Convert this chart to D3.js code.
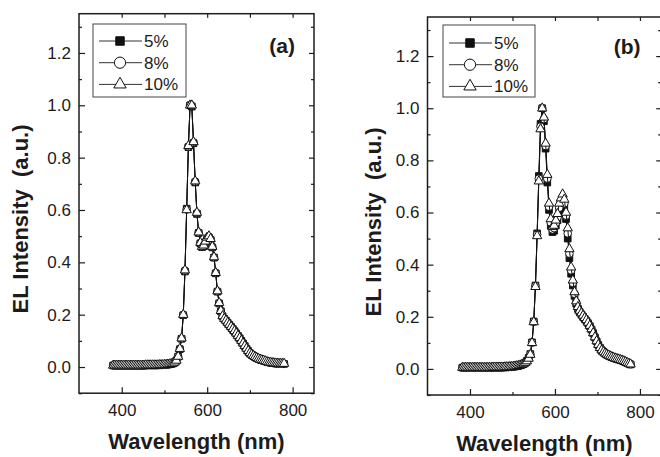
<!DOCTYPE html>
<html lang="en">
  <head>
    <meta charset="utf-8" />
    <title>EL spectra</title>
    <script src="https://d3js.org/d3.v7.min.js"></script>
    <style>
      body { margin: 0; background: #fff; }
      text { font-family: "Liberation Sans", Arial, Helvetica, sans-serif; fill: #1c1c1c; }
    </style>
  </head>
  <body>
    <script>
      const WIDTH = 660;
      const HEIGHT = 457;
      const INK = "#1c1c1c";

      // Wavelength grids (nm) of the two panels
      const wavelengthA = [
        380, 384, 388, 392, 396, 400, 404, 408, 412, 416,
        420, 424, 428, 432, 436, 440, 444, 448, 452, 456,
        460, 464, 468, 472, 476, 480, 484, 488, 492, 496,
        500, 504, 508, 512, 516, 520, 524, 528, 532, 536,
        540, 544, 548, 552, 556, 560, 564, 568, 572, 576,
        580, 584, 588, 592, 596, 600, 604, 608, 612, 616,
        620, 624, 628, 632, 636, 640, 644, 648, 652, 656,
        660, 664, 668, 672, 676, 680, 684, 688, 692, 696,
        700, 704, 708, 712, 716, 720, 724, 728, 732, 736,
        740, 744, 748, 752, 756, 760, 764, 768, 772, 776,
        780
      ];
      const wavelengthB = [
        382, 386, 390, 394, 398, 402, 406, 410, 414, 418,
        422, 426, 430, 434, 438, 442, 446, 450, 454, 458,
        462, 466, 470, 474, 478, 482, 486, 490, 494, 498,
        502, 506, 510, 514, 518, 522, 526, 530, 534, 538,
        542, 546, 550, 554, 558, 562, 566, 570, 574, 578,
        582, 586, 590, 594, 598, 602, 606, 610, 614, 618,
        622, 626, 630, 634, 638, 642, 646, 650, 654, 658,
        662, 666, 670, 674, 678, 682, 686, 690, 694, 698,
        702, 706, 710, 714, 718, 722, 726, 730, 734, 738,
        742, 746, 750, 754, 758, 762, 766, 770, 774, 778
      ];

      // Panel (a) normalised EL intensity
      const a5 = [
        0.006, 0.006, 0.006, 0.006, 0.006, 0.006, 0.006, 0.006, 0.006, 0.006,
        0.006, 0.006, 0.006, 0.006, 0.006, 0.006, 0.006, 0.006, 0.006, 0.007,
        0.007, 0.007, 0.007, 0.007, 0.007, 0.007, 0.007, 0.008, 0.008, 0.008,
        0.009, 0.009, 0.010, 0.011, 0.012, 0.014, 0.018, 0.025, 0.040, 0.068,
        0.108, 0.198, 0.365, 0.605, 0.840, 1.000, 0.995, 0.855, 0.705, 0.585,
        0.512, 0.472, 0.458, 0.462, 0.476, 0.490, 0.495, 0.486, 0.457, 0.418,
        0.358, 0.288, 0.243, 0.213, 0.194, 0.184, 0.177, 0.169, 0.161, 0.153,
        0.145, 0.137, 0.128, 0.119, 0.110, 0.100, 0.090, 0.080, 0.070, 0.061,
        0.053, 0.047, 0.042, 0.038, 0.034, 0.031, 0.028, 0.026, 0.024, 0.022,
        0.020, 0.018, 0.017, 0.016, 0.015, 0.014, 0.014, 0.013, 0.013, 0.013,
        0.012
      ];
      const a8 = [
        0.006, 0.006, 0.006, 0.006, 0.006, 0.006, 0.006, 0.006, 0.006, 0.006,
        0.006, 0.006, 0.006, 0.006, 0.006, 0.006, 0.006, 0.006, 0.006, 0.007,
        0.007, 0.007, 0.007, 0.007, 0.007, 0.007, 0.007, 0.008, 0.008, 0.008,
        0.009, 0.009, 0.010, 0.011, 0.012, 0.014, 0.018, 0.025, 0.040, 0.069,
        0.109, 0.199, 0.368, 0.602, 0.842, 1.000, 0.998, 0.858, 0.708, 0.588,
        0.514, 0.474, 0.459, 0.464, 0.478, 0.493, 0.498, 0.488, 0.459, 0.419,
        0.359, 0.289, 0.244, 0.214, 0.195, 0.185, 0.178, 0.170, 0.162, 0.154,
        0.146, 0.138, 0.129, 0.120, 0.111, 0.101, 0.091, 0.081, 0.071, 0.062,
        0.054, 0.048, 0.043, 0.039, 0.035, 0.032, 0.029, 0.027, 0.025, 0.023,
        0.020, 0.018, 0.017, 0.016, 0.015, 0.014, 0.014, 0.013, 0.013, 0.013,
        0.012
      ];
      const a10 = [
        0.006, 0.006, 0.006, 0.006, 0.006, 0.006, 0.006, 0.006, 0.006, 0.006,
        0.006, 0.006, 0.006, 0.006, 0.006, 0.006, 0.006, 0.006, 0.006, 0.007,
        0.007, 0.007, 0.007, 0.007, 0.007, 0.007, 0.007, 0.008, 0.008, 0.008,
        0.009, 0.009, 0.010, 0.011, 0.012, 0.014, 0.018, 0.025, 0.040, 0.070,
        0.110, 0.200, 0.370, 0.600, 0.845, 1.000, 1.000, 0.860, 0.710, 0.590,
        0.515, 0.475, 0.460, 0.465, 0.480, 0.495, 0.500, 0.490, 0.460, 0.420,
        0.360, 0.290, 0.245, 0.215, 0.195, 0.185, 0.178, 0.170, 0.162, 0.154,
        0.146, 0.138, 0.129, 0.120, 0.111, 0.101, 0.091, 0.081, 0.071, 0.062,
        0.054, 0.048, 0.043, 0.039, 0.035, 0.032, 0.029, 0.027, 0.025, 0.023,
        0.020, 0.018, 0.017, 0.016, 0.015, 0.014, 0.014, 0.013, 0.013, 0.013,
        0.013
      ];

      // Panel (b) normalised EL intensity
      const b5 = [
        0.005, 0.005, 0.005, 0.005, 0.005, 0.005, 0.005, 0.005, 0.005, 0.005,
        0.005, 0.005, 0.005, 0.005, 0.005, 0.005, 0.005, 0.005, 0.006, 0.006,
        0.006, 0.006, 0.006, 0.006, 0.006, 0.007, 0.007, 0.007, 0.008, 0.008,
        0.009, 0.010, 0.011, 0.012, 0.014, 0.016, 0.019, 0.024, 0.031, 0.042,
        0.057, 0.102, 0.182, 0.320, 0.520, 0.740, 0.940, 1.000, 0.950, 0.845,
        0.715, 0.610, 0.550, 0.525, 0.530, 0.550, 0.570, 0.600, 0.625, 0.635,
        0.620, 0.575, 0.500, 0.425, 0.365, 0.320, 0.280, 0.250, 0.230, 0.218,
        0.209, 0.200, 0.192, 0.184, 0.175, 0.164, 0.151, 0.137, 0.121, 0.106,
        0.092, 0.081, 0.072, 0.065, 0.059, 0.055, 0.051, 0.048, 0.045, 0.042,
        0.040, 0.038, 0.036, 0.034, 0.032, 0.029, 0.026, 0.023, 0.020, 0.017
      ];
      const b8 = [
        0.005, 0.005, 0.005, 0.005, 0.005, 0.005, 0.005, 0.005, 0.005, 0.005,
        0.005, 0.005, 0.005, 0.005, 0.005, 0.005, 0.005, 0.005, 0.006, 0.006,
        0.006, 0.006, 0.006, 0.006, 0.006, 0.007, 0.007, 0.007, 0.008, 0.008,
        0.009, 0.010, 0.011, 0.012, 0.014, 0.016, 0.019, 0.024, 0.030, 0.041,
        0.056, 0.101, 0.181, 0.318, 0.515, 0.730, 0.930, 1.000, 0.958, 0.855,
        0.730, 0.622, 0.562, 0.535, 0.540, 0.560, 0.582, 0.618, 0.640, 0.652,
        0.635, 0.588, 0.520, 0.442, 0.378, 0.330, 0.288, 0.255, 0.234, 0.221,
        0.211, 0.203, 0.194, 0.186, 0.177, 0.165, 0.152, 0.137, 0.121, 0.106,
        0.092, 0.081, 0.072, 0.065, 0.060, 0.056, 0.052, 0.049, 0.046, 0.043,
        0.041, 0.039, 0.037, 0.035, 0.033, 0.030, 0.027, 0.024, 0.021, 0.018
      ];
      const b10 = [
        0.005, 0.005, 0.005, 0.005, 0.005, 0.005, 0.005, 0.005, 0.005, 0.005,
        0.005, 0.005, 0.005, 0.005, 0.005, 0.005, 0.005, 0.005, 0.006, 0.006,
        0.006, 0.006, 0.006, 0.006, 0.006, 0.007, 0.007, 0.007, 0.008, 0.008,
        0.009, 0.010, 0.011, 0.012, 0.014, 0.016, 0.019, 0.024, 0.030, 0.040,
        0.055, 0.100, 0.180, 0.315, 0.510, 0.720, 0.920, 1.000, 0.965, 0.865,
        0.745, 0.635, 0.575, 0.545, 0.550, 0.570, 0.595, 0.635, 0.655, 0.670,
        0.650, 0.600, 0.540, 0.460, 0.390, 0.340, 0.295, 0.260, 0.238, 0.224,
        0.214, 0.205, 0.196, 0.188, 0.178, 0.166, 0.153, 0.138, 0.122, 0.107,
        0.093, 0.081, 0.072, 0.065, 0.060, 0.056, 0.052, 0.049, 0.046, 0.043,
        0.041, 0.039, 0.037, 0.035, 0.033, 0.030, 0.027, 0.024, 0.021, 0.018
      ];

      // Ticks
      const xMajor = [400, 600, 800];
      const xMinor = [500, 700];
      const yMajor = [0.0, 0.2, 0.4, 0.6, 0.8, 1.0, 1.2];
      const yMinor = [-0.1, 0.1, 0.3, 0.5, 0.7, 0.9, 1.1, 1.3];
      const xDomain = [300, 850];
      const yDomain = [-0.1, 1.35];

      const seriesNames = ["5%", "8%", "10%"];
      const symbolTypes = [d3.symbolSquare, d3.symbolCircle, d3.symbolTriangle];
      const symbolFills = ["#111", "#fff", "#fff"];
      const symbolSizes = [44, 46, 38];
      const legendSizes = [72, 100, 66];

      const svg = d3.select("body").append("svg")
        .attr("width", WIDTH)
        .attr("height", HEIGHT);

      function styleAxis(g, size) {
        g.select(".domain").remove();
        g.selectAll("line").attr("stroke", INK).attr("stroke-width", 1.2);
        g.selectAll("text").attr("font-size", size).attr("font-family", null).attr("fill", INK);
      }

      function drawPanel(p) {
        const x = d3.scaleLinear().domain(xDomain).range([p.left, p.right]);
        const y = d3.scaleLinear().domain(yDomain).range([p.bottom, p.top]);
        const g = svg.append("g");

        // bottom + left with labels, top + right mirrored ticks only
        g.append("g").attr("transform", `translate(0,${p.bottom})`)
          .call(d3.axisBottom(x).tickValues(xMajor).tickSizeInner(-6).tickSizeOuter(0).tickPadding(11))
          .call(styleAxis, 17);
        g.append("g").attr("transform", `translate(0,${p.bottom})`)
          .call(d3.axisBottom(x).tickValues(xMinor).tickSizeInner(-3).tickSizeOuter(0).tickFormat(""))
          .call(styleAxis, 17);
        g.append("g").attr("transform", `translate(${p.left},0)`)
          .call(d3.axisLeft(y).tickValues(yMajor).tickSizeInner(-6).tickSizeOuter(0).tickPadding(8).tickFormat(d3.format(".1f")))
          .call(styleAxis, 17);
        g.append("g").attr("transform", `translate(${p.left},0)`)
          .call(d3.axisLeft(y).tickValues(yMinor).tickSizeInner(-3).tickSizeOuter(0).tickFormat(""))
          .call(styleAxis, 17);
        g.append("g").attr("transform", `translate(0,${p.top})`)
          .call(d3.axisTop(x).tickValues(xMajor.concat(xMinor)).tickSizeInner(-4).tickSizeOuter(0).tickFormat(""))
          .call(styleAxis, 17);
        g.append("g").attr("transform", `translate(${p.right},0)`)
          .call(d3.axisRight(y).tickValues(yMajor).tickSizeInner(-5).tickSizeOuter(0).tickFormat(""))
          .call(styleAxis, 17);
        g.append("g").attr("transform", `translate(${p.right},0)`)
          .call(d3.axisRight(y).tickValues(yMinor).tickSizeInner(-3).tickSizeOuter(0).tickFormat(""))
          .call(styleAxis, 17);

        // frame
        g.append("rect")
          .attr("x", p.left).attr("y", p.top)
          .attr("width", p.right - p.left).attr("height", p.bottom - p.top)
          .attr("fill", "none").attr("stroke", INK).attr("stroke-width", 1.5);

        // series: line then symbols, 5% first so 10% ends on top
        const line = d3.line().x(d => x(d[0])).y(d => y(d[1]));
        p.series.forEach((vals, i) => {
          const pts = d3.zip(p.wavelength, vals);
          g.append("path").datum(pts)
            .attr("d", line)
            .attr("fill", "none").attr("stroke", "#111").attr("stroke-width", 1);
          g.append("g").selectAll("path").data(pts).join("path")
            .attr("transform", d => `translate(${x(d[0])},${y(d[1])})`)
            .attr("d", d3.symbol(symbolTypes[i], symbolSizes[i]))
            .attr("fill", symbolFills[i]).attr("stroke", "#111").attr("stroke-width", 1);
        });

        // legend
        const lg = p.legend;
        g.append("rect")
          .attr("x", lg.x).attr("y", lg.y).attr("width", lg.w).attr("height", lg.h)
          .attr("fill", "#fff").attr("stroke", "#444").attr("stroke-width", 1);
        seriesNames.forEach((name, i) => {
          const cy = lg.y + lg.row0 + i * 21.7;
          g.append("line")
            .attr("x1", lg.x + 6).attr("x2", lg.x + 49).attr("y1", cy).attr("y2", cy)
            .attr("stroke", "#333").attr("stroke-width", 1);
          g.append("path")
            .attr("transform", `translate(${lg.x + 27},${cy})`)
            .attr("d", d3.symbol(symbolTypes[i], legendSizes[i]))
            .attr("fill", symbolFills[i]).attr("stroke", "#111").attr("stroke-width", 1);
          g.append("text")
            .attr("x", lg.x + 51).attr("y", cy + 6)
            .attr("font-size", 17)
            .text(name);
        });

        // panel tag
        g.append("text")
          .attr("x", p.tagX).attr("y", p.tagY)
          .attr("text-anchor", "end").attr("font-size", 21).attr("font-weight", "bold")
          .text(p.tag);

        // axis titles
        g.append("text")
          .attr("x", (p.left + p.right) / 2).attr("y", p.xTitleY)
          .attr("text-anchor", "middle").attr("font-size", 22).attr("font-weight", "bold")
          .text("Wavelength (nm)");
        g.append("text")
          .attr("transform", `translate(${p.yTitleX},${p.yTitleY}) rotate(-90)`)
          .attr("text-anchor", "middle").attr("font-size", 22).attr("font-weight", "bold")
          .style("white-space", "pre")
          .text("EL Intensity  (a.u.)");
      }

      drawPanel({
        left: 79, right: 314, top: 13.7, bottom: 393.2,
        wavelength: wavelengthA, series: [a5, a8, a10],
        legend: { x: 93, y: 24, w: 93, h: 73, row0: 17 },
        tag: "(a)", tagX: 295, tagY: 53,
        xTitleY: 449, yTitleX: 28, yTitleY: 219
      });
      drawPanel({
        left: 427.5, right: 661.2, top: 17, bottom: 395,
        wavelength: wavelengthB, series: [b5, b8, b10],
        legend: { x: 443, y: 25, w: 92, h: 72, row0: 18 },
        tag: "(b)", tagX: 640.5, tagY: 54,
        xTitleY: 451, yTitleX: 381, yTitleY: 222
      });
    </script>
  </body>
</html>
